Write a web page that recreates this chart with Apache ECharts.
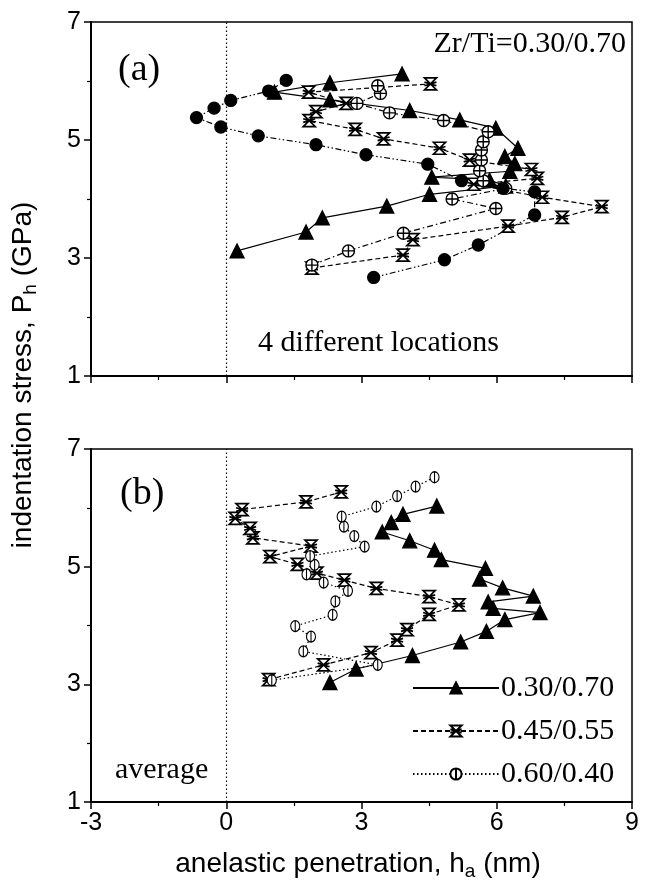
<!DOCTYPE html>
<html>
<head>
<meta charset="utf-8">
<script src="https://cdn.jsdelivr.net/npm/echarts@6/dist/echarts.min.js"></script>
<style>
  html, body { margin: 0; padding: 0; background: #fff; }
  #main { width: 648px; height: 892px; }
</style>
</head>
<body>
<div id="main"></div>
<script>
// panel (a): Zr/Ti=0.30/0.70 at 4 different locations
const aTri = [[0.24,3.12],[1.77,3.44],[2.13,3.68],[3.56,3.88],[4.51,4.08],[6.2,4.22],[5.84,4.32],[4.56,4.37],[6.29,4.47],[6.4,4.6],[6.18,4.72],[6.47,4.86],[5.98,5.2],[5.18,5.34],[4.07,5.5],[2.3,5.68],[1.07,5.81],[2.3,5.97],[3.9,6.12]]
const aCross = [[1.9,2.83],[3.92,3.05],[4.14,3.31],[6.25,3.54],[7.45,3.69],[8.33,3.87],[7.01,4.03],[5.49,4.25],[6.9,4.35],[6.77,4.5],[5.4,4.66],[4.73,4.86],[3.49,5.02],[2.86,5.18],[1.84,5.33],[1.99,5.48],[2.66,5.62],[1.83,5.81],[4.53,5.95]]
const aPlus = [[1.9,2.88],[2.71,3.12],[3.93,3.42],[5.98,3.84],[5.01,4.0],[6.2,4.18],[5.7,4.31],[5.62,4.48],[5.66,4.66],[5.66,4.83],[5.7,4.97],[5.81,5.14],[4.82,5.33],[3.62,5.46],[2.9,5.62],[3.42,5.79],[3.36,5.92]]
const aDot = [[3.27,2.67],[4.84,2.97],[5.59,3.22],[6.84,3.73],[6.84,4.12],[6.14,4.18],[5.22,4.31],[4.47,4.59],[3.1,4.75],[1.99,4.92],[0.71,5.07],[-0.12,5.22],[-0.66,5.38],[-0.27,5.54],[0.1,5.67],[0.94,5.83],[1.33,6.01]]

// panel (b): averages per composition
const bNames = ['0.30/0.70', '0.45/0.55', '0.60/0.40']
const b030 = [[2.3,3.03],[2.88,3.26],[4.13,3.49],[5.2,3.72],[5.77,3.9],[6.18,4.1],[6.96,4.22],[5.92,4.29],[5.81,4.4],[6.81,4.5],[6.13,4.64],[5.62,4.79],[5.75,4.97],[4.77,5.12],[4.62,5.28],[4.07,5.44],[3.46,5.59],[3.66,5.75],[3.92,5.89],[4.67,6.03]]
const b045 = [[0.94,3.08],[2.16,3.33],[3.21,3.54],[3.79,3.75],[4.01,3.93],[4.5,4.19],[5.16,4.35],[4.5,4.49],[3.33,4.63],[2.62,4.77],[2.01,4.89],[1.58,5.04],[0.97,5.17],[1.88,5.35],[0.59,5.49],[0.53,5.65],[0.2,5.82],[0.35,5.97],[1.77,6.1],[2.55,6.27]]
const b060 = [[1.01,3.07],[3.36,3.33],[1.71,3.56],[1.88,3.81],[1.53,3.99],[2.36,4.18],[2.42,4.41],[2.7,4.59],[2.16,4.73],[1.78,4.87],[1.96,5.03],[1.86,5.18],[3.07,5.34],[2.84,5.52],[2.61,5.68],[2.56,5.85],[3.33,6.02],[3.79,6.2],[4.2,6.36],[4.62,6.52]]

const xTicks = { min: -3, max: 9, interval: 3 }
const yTicks = { min: 1, max: 7, interval: 2 }

const SERIF = 'Liberation Serif'
const SANS = 'Liberation Sans'

const hourglass = 'path://M0,0L10,0L0,10L10,10Z M0,3.5L10,6.5 M0,6.5L10,3.5'
const circlePlus = 'path://M5,0A5,5 0 1,1 5,10A5,5 0 1,1 5,0Z M5,0L5,10 M0,5L10,5'
const circleBar = 'path://M5,0A5,5 0 1,1 5,10A5,5 0 1,1 5,0Z M5,0L5,10'

const chart = echarts.init(document.getElementById('main'))

function xAxis(i, labels) {
  return {
    type: 'value', gridIndex: i, min: xTicks.min, max: xTicks.max, interval: xTicks.interval,
    axisLine: { onZero: false, lineStyle: { color: '#000', width: 2 } },
    axisTick: { length: 7, lineStyle: { color: '#000', width: 1.5 } },
    minorTick: { show: true, splitNumber: 2, length: 4, lineStyle: { color: '#000', width: 1.2 } },
    splitLine: { show: false },
    axisLabel: { show: labels, color: '#000', fontFamily: SANS, fontSize: 25, margin: 9 }
  }
}
function yAxis(i) {
  return {
    type: 'value', gridIndex: i, min: yTicks.min, max: yTicks.max, interval: yTicks.interval,
    axisLine: { onZero: false, lineStyle: { color: '#000', width: 2 } },
    axisTick: { length: 7, lineStyle: { color: '#000', width: 1.5 } },
    minorTick: { show: true, splitNumber: 2, length: 4, lineStyle: { color: '#000', width: 1.2 } },
    splitLine: { show: false },
    axisLabel: { color: '#000', fontFamily: SANS, fontSize: 25, margin: 10 }
  }
}

function line(name, data, grid, dash, symbol, size, fill, bw) {
  return {
    name: name, type: 'line', xAxisIndex: grid, yAxisIndex: grid, data: data,
    symbol: symbol, symbolSize: size, symbolKeepAspect: true,
    lineStyle: { color: '#000', width: 1.2, type: dash },
    itemStyle: { color: fill, borderColor: '#000', borderWidth: bw || 1.3 },
    animation: false, z: 3
  }
}

const zeroLine = {
  silent: true, symbol: 'none', label: { show: false },
  lineStyle: { color: '#000', type: [1.5, 2.5], width: 1.2 },
  data: [{ xAxis: 0 }]
}

const series = [
  line('a1', aTri, 0, 'solid', 'triangle', 14, '#000'),
  line('a2', aCross, 0, [5, 3], hourglass, 12, '#fff', 1.7),
  line('a3', aPlus, 0, [6, 3, 1.5, 3], circlePlus, 12, '#fff', 1.4),
  line('a4', aDot, 0, [6, 2.5, 1.5, 2.5, 1.5, 2.5], 'circle', 12, '#000'),
  line(bNames[0], b030, 1, 'solid', 'triangle', 14, '#000'),
  line(bNames[1], b045, 1, [5, 3], hourglass, 12, '#fff', 1.7),
  line(bNames[2], b060, 1, [1.5, 2.5], circleBar, [9, 11], '#fff', 1.2)
]
series[0].markLine = zeroLine
series[4].markLine = zeroLine

chart.setOption({
  animation: false,
  grid: [
    { left: 91, top: 22, width: 541, height: 354, show: true, borderColor: '#000', borderWidth: 1.5 },
    { left: 91, top: 449, width: 541, height: 353, show: true, borderColor: '#000', borderWidth: 1.5 }
  ],
  xAxis: [xAxis(0, false), xAxis(1, true)],
  yAxis: [yAxis(0), yAxis(1)],
  legend: {
    data: bNames, orient: 'vertical', left: 407, top: 668,
    itemWidth: 86, itemHeight: 14, itemGap: 13, itemGap: 13,
    textStyle: { color: '#000', fontFamily: SERIF, fontSize: 30, lineHeight: 30, padding: [0, 0, 0, -3] }
  },
  series: series,
  graphic: [
    { type: 'text', x: 118, y: 70, style: { text: '(a)', font: '38px ' + SERIF, fill: '#000', verticalAlign: 'middle' } },
    { type: 'text', x: 120, y: 494, style: { text: '(b)', font: '38px ' + SERIF, fill: '#000', verticalAlign: 'middle' } },
    { type: 'text', x: 626, y: 44, style: { text: 'Zr/Ti=0.30/0.70', font: '30px ' + SERIF, fill: '#000', align: 'right', verticalAlign: 'middle' } },
    { type: 'text', x: 258, y: 343, style: { text: '4 different locations', font: '30px ' + SERIF, fill: '#000', verticalAlign: 'middle' } },
    { type: 'text', x: 115, y: 770, style: { text: 'average', font: '30px ' + SERIF, fill: '#000', verticalAlign: 'middle' } },
    {
      type: 'text', x: 358, y: 864,
      style: {
        text: '{m|anelastic penetration, h}{s|a}{m| (nm)}', align: 'center', verticalAlign: 'middle',
        rich: { m: { font: '28px ' + SANS, fill: '#000' }, s: { font: '19px ' + SANS, fill: '#000', padding: [15, 0, 0, 0] } }
      }
    },
    {
      type: 'text', x: 23, y: 375, rotation: Math.PI / 2,
      style: {
        text: '{m|indentation stress, P}{s|h}{m| (GPa)}', align: 'center', verticalAlign: 'middle',
        rich: { m: { font: '28px ' + SANS, fill: '#000' }, s: { font: '19px ' + SANS, fill: '#000', padding: [15, 0, 0, 0] } }
      }
    }
  ]
})
</script>
</body>
</html>
